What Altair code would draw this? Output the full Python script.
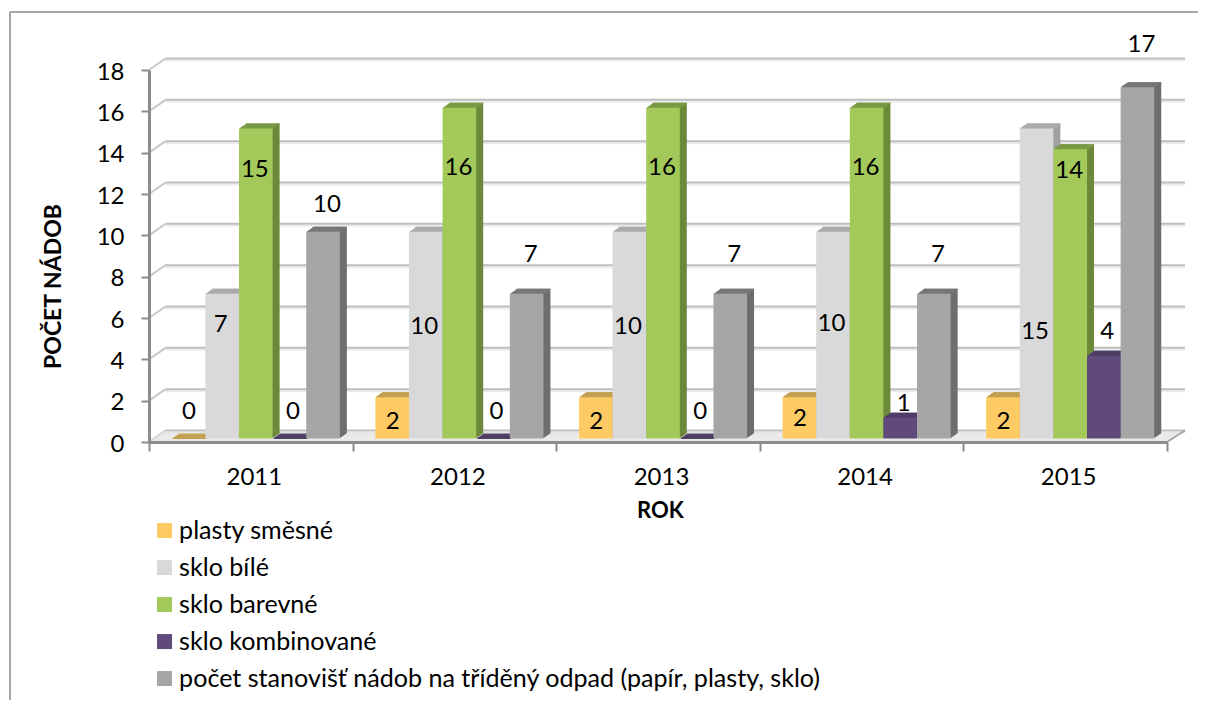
import altair as alt
import pandas as pd

years = ["2011", "2012", "2013", "2014", "2015"]
series = ["plasty směsné", "sklo bílé", "sklo barevné", "sklo kombinované",
          "počet stanovišť nádob na tříděný odpad (papír, plasty, sklo)"]
plasty = [0, 2, 2, 2, 2]
bile = [7, 10, 10, 10, 15]
barevne = [15, 16, 16, 16, 14]
kombinovane = [0, 0, 0, 1, 4]
stanoviste = [10, 7, 7, 7, 17]
# heights (in axis units) at which the data labels sit in the picture
lab_plasty = [1.55, 1.07, 1.07, 1.21, 1.07]
lab_bile = [5.77, 5.67, 5.67, 5.81, 5.43]
lab_barevne = [13.28, 13.37, 13.37, 13.37, 13.23]
lab_kombinovane = [1.55, 1.55, 1.55, 1.94, 5.43]
lab_stanoviste = [11.58, 9.16, 9.16, 9.16, 19.33]
front_colors = ["#FDCA64", "#D9D9D9", "#A3C95A", "#604A7B", "#A6A6A6"]
side_colors = ["#B89448", "#A0A0A0", "#6B8A3A", "#46365C", "#6E6E6E"]
top_colors = ["#C39F52", "#ABABAB", "#7A9A44", "#4F3E66", "#777777"]
label_dx = [0.5, -1.5, -1, 3.5, 4]
y_ticks = [0, 2, 4, 6, 8, 10, 12, 14, 16, 18]

FONT = "Lato"
FS = 24
FS_LEGEND = 25.1
VW, VH = 1018, 372
STEP = VW / 5
DEPTH = 7
WALL_DX = 16.5
WALL_DY = 11.5

rows = []
for s, vals, labs, sc, tc in zip(
        series, [plasty, bile, barevne, kombinovane, stanoviste],
        [lab_plasty, lab_bile, lab_barevne, lab_kombinovane, lab_stanoviste],
        side_colors, top_colors):
    for y, v, l in zip(years, vals, labs):
        rows.append(dict(year=y, series=s, value=v, label_y=l, side=sc, top=tc))
df = pd.DataFrame(rows)
ticks_df = pd.DataFrame({"v": y_ticks})

Y_SCALE = alt.Scale(domain=[0, 18], nice=False, zero=True)
X_ENC = alt.X("year:N", sort=years, scale=alt.Scale(paddingInner=0, paddingOuter=0))
Y_PLAIN = alt.Y("value:Q", scale=Y_SCALE, stack=None)


def xo(shift=0.0):
    """band offset inside a year; shift moves a 3D face sideways in pixels"""
    return alt.XOffset("series:N", sort=series,
                       scale=alt.Scale(type="band", domain=series, paddingInner=0, paddingOuter=0.528,
                                       range=[shift, STEP + shift]))


layers = []

# front faces carry the axes and the legend
front = alt.Chart(df).mark_bar(yOffset=-3.5, y2Offset=-3.5).encode(
    x=alt.X("year:N", sort=years, scale=alt.Scale(paddingInner=0, paddingOuter=0),
            axis=alt.Axis(title="ROK", titleFont=FONT, titleFontSize=22, titleFontWeight="bold",
                          titleColor="#000000", titleX=511, titleY=75, titleBaseline="alphabetic",
                          labelFont=FONT, labelFontSize=FS, labelColor="#000000", labelAngle=0,
                          labelAlign="center", labelOffset=3,
                          labelPadding=26, tickBand="extent", tickColor="#8C8C8C", tickWidth=2,
                          tickSize=9, domainColor="#8C8C8C", domainWidth=3, zindex=1, grid=False)),
    xOffset=xo(5),
    y=alt.Y("value:Q", scale=Y_SCALE, stack=None,
            axis=alt.Axis(title="POČET NÁDOB", titleFont=FONT, titleFontSize=23, titleFontWeight="bold",
                          titleColor="#000000", titleX=-84, titleY=216, titleAngle=270,
                          labelFont=FONT, labelFontSize=FS, labelColor="#000000", labelPadding=17,
                          labelOffset=2,
                          values=y_ticks, tickColor="#8C8C8C", tickWidth=2, tickSize=8,
                          domainColor="#8C8C8C", domainWidth=3, zindex=1, grid=False)),
    y2=alt.datum(0),
    color=alt.Color("series:N", sort=series,
                    scale=alt.Scale(domain=series, range=front_colors),
                    legend=alt.Legend(title=None, orient="none", legendX=3, legendY=448,
                                      direction="vertical", columns=1, symbolType="square",
                                      symbolSize=225, symbolStrokeWidth=0, symbolOpacity=1,
                                      labelFont=FONT, labelFontSize=FS_LEGEND, labelColor="#000000",
                                      labelLimit=900, labelOffset=2, rowPadding=11)),
)

# wall grid lines, back edge included
layers.append(alt.Chart(ticks_df).mark_rule(color="#EBEBEB", strokeWidth=2, yOffset=-WALL_DY + 2).encode(
    x=alt.value(WALL_DX), x2=alt.value(VW + 18), y=alt.Y("v:Q", scale=Y_SCALE)))
layers.append(alt.Chart(ticks_df).mark_rule(color="#BEBEBE", strokeWidth=2, yOffset=-WALL_DY).encode(
    x=alt.value(WALL_DX), x2=alt.value(VW + 18), y=alt.Y("v:Q", scale=Y_SCALE)))
# diagonals on the side wall
layers.append(alt.Chart(ticks_df).transform_calculate(v2=f"datum.v + {WALL_DY / (VH / 18)}")
              .mark_rule(color="#C8C8C8", strokeWidth=2).encode(
    x=alt.value(0), x2=alt.value(WALL_DX), y=alt.Y("v:Q", scale=Y_SCALE), y2="v2:Q"))
# floor, built from thin rules
for i in range(0, 11):
    layers.append(alt.Chart(ticks_df.head(1)).mark_rule(color="#E4E4E4", strokeWidth=1.2).encode(
        x=alt.value(i * WALL_DX / WALL_DY), x2=alt.value(VW + i * 18 / WALL_DY),
        y=alt.value(VH - i)))
# right edge of the floor
layers.append(alt.Chart(ticks_df.head(1)).mark_rule(color="#A6A6A6", strokeWidth=2).encode(
    x=alt.value(VW), x2=alt.value(VW + 18), y=alt.value(VH), y2=alt.value(VH - WALL_DY)))

# 3D side faces
for i in range(DEPTH, 0, -1):
    off = -3.5 - i * 5 / DEPTH
    layers.append(alt.Chart(df).mark_bar(yOffset=off, y2Offset=off).encode(
        x=X_ENC, xOffset=xo(5 + i), y=Y_PLAIN, y2=alt.datum(0),
        color=alt.Color("side:N", scale=None)))
# 3D top faces
for i in range(DEPTH, 0, -1):
    off = -3.5 - i * 5 / DEPTH
    layers.append(alt.Chart(df).transform_calculate(v2="datum.value - 0.06")
                  .mark_bar(yOffset=off, y2Offset=off).encode(
        x=X_ENC, xOffset=xo(5 + i), y=Y_PLAIN, y2="v2:Q",
        color=alt.Color("top:N", scale=None)))
layers.append(front)
# data labels
for s, dx in zip(series, label_dx):
    layers.append(alt.Chart(df[df.series == s]).mark_text(
        font=FONT, fontSize=FS, color="#000000", dx=dx, dy=2, baseline="middle").encode(
        x=X_ENC, xOffset=xo(5),
        y=alt.Y("label_y:Q", scale=Y_SCALE),
        text=alt.Text("value:Q")))
# chart frame
frame = ticks_df.head(1)
layers.append(alt.Chart(frame).mark_rule(color="#A6A6A6", strokeWidth=2).encode(
    x=alt.value(-139), x2=alt.value(1049), y=alt.value(-58)))
layers.append(alt.Chart(frame).mark_rule(color="#A6A6A6", strokeWidth=2).encode(
    x=alt.value(-139), y=alt.value(-58), y2=alt.value(631)))

chart = alt.layer(*layers).resolve_scale(color="independent", xOffset="independent").properties(
    width=VW, height=VH,
    padding={"left": 141, "top": 62, "right": 31, "bottom": 258},
    autosize=alt.AutoSizeParams(type="none"),
    background="#FFFFFF",
).configure_view(stroke=None)

chart.save("out.html", embed_options={"renderer": "svg", "actions": False})
